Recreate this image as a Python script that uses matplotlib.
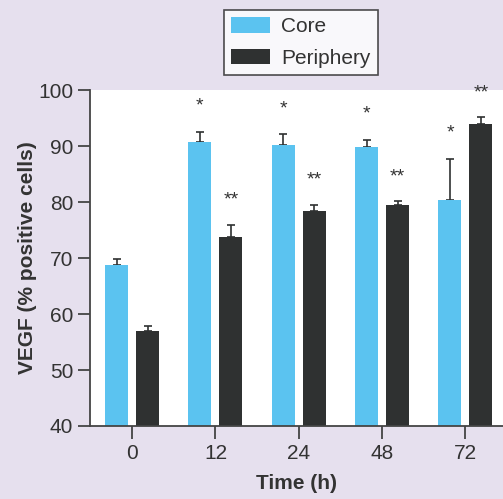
import numpy as np
import matplotlib.pyplot as plt

plt.rcParams['font.family'] = ['Liberation Sans', 'DejaVu Sans']

times = ['0', '12', '24', '48', '72']
core = [68.7, 90.8, 90.1, 89.8, 80.4]
core_err = [1.1, 1.7, 2.0, 1.3, 7.3]
periphery = [56.9, 73.8, 78.4, 79.5, 93.9]
periphery_err = [1.0, 2.1, 1.1, 0.6, 1.2]
core_marks = ['', '*', '*', '*', '*']
periphery_marks = ['', '**', '**', '**', '**']

bg = '#E6E0EE'
c_core = '#5BC3F0'
c_per = '#2F3131'
dark = '#333333'

fig = plt.figure(figsize=(5.03, 4.99), dpi=100, facecolor=bg)
ax = fig.add_axes([0.179, 0.1463, 0.821, 0.6733])
ax.set_facecolor('white')

x = np.arange(len(times))
w = 0.276
off = 0.186
ax.bar(x - off, core, w, color=c_core, label='Core', zorder=2)
ax.bar(x + off, periphery, w, color=c_per, label='Periphery', zorder=2)
ax.errorbar(x - off, core, yerr=[np.zeros(len(core)), core_err], fmt='none',
            ecolor=c_per, elinewidth=1.2, capsize=3, capthick=1.2, zorder=1)
ax.errorbar(x + off, periphery, yerr=[np.zeros(len(periphery)), periphery_err], fmt='none',
            ecolor=c_per, elinewidth=1.2, capsize=3, capthick=1.2, zorder=1)

for i in range(len(times)):
    ax.text(x[i] - off, core[i] + core_err[i] + 4.6, core_marks[i], ha='center',
            va='center', fontsize=14, color=dark, clip_on=False)
    ax.text(x[i] + off, periphery[i] + periphery_err[i] + 4.4, periphery_marks[i],
            ha='center', va='center', fontsize=14, color=dark, clip_on=False)

ax.set_ylim(40, 100)
ax.set_xlim(-0.505, 4.45)
ax.set_yticks(range(40, 101, 10))
ax.set_xticks(x, labels=times)

for s in ['top', 'right']:
    ax.spines[s].set_visible(False)
for s in ['left', 'bottom']:
    ax.spines[s].set_color('#444444')
    ax.spines[s].set_linewidth(1.3)
ax.tick_params(axis='y', direction='out', length=9, width=1.3, color='#444444',
               labelsize=15, labelcolor=dark, pad=3)
ax.tick_params(axis='x', direction='out', length=9, width=1.3, color='#444444',
               labelsize=15, labelcolor=dark, pad=4)

ax.set_ylabel('VEGF (% positive cells)', fontsize=15, fontweight='bold', color=dark, labelpad=1)
ax.set_xlabel('Time (h)', fontsize=15, fontweight='bold', color=dark, labelpad=8)

leg = fig.legend(loc='upper left', bbox_to_anchor=(224 / 503, 1 - 10 / 499), fontsize=15,
                 frameon=True, fancybox=False, edgecolor='#222222', handlelength=1.85,
                 handleheight=0.75, borderpad=0.35, labelspacing=0.6, handletextpad=0.55,
                 borderaxespad=0)
leg.get_frame().set_linewidth(1.2)
for t in leg.get_texts():
    t.set_color(dark)

fig.savefig('out.png', dpi=100, facecolor=bg)
